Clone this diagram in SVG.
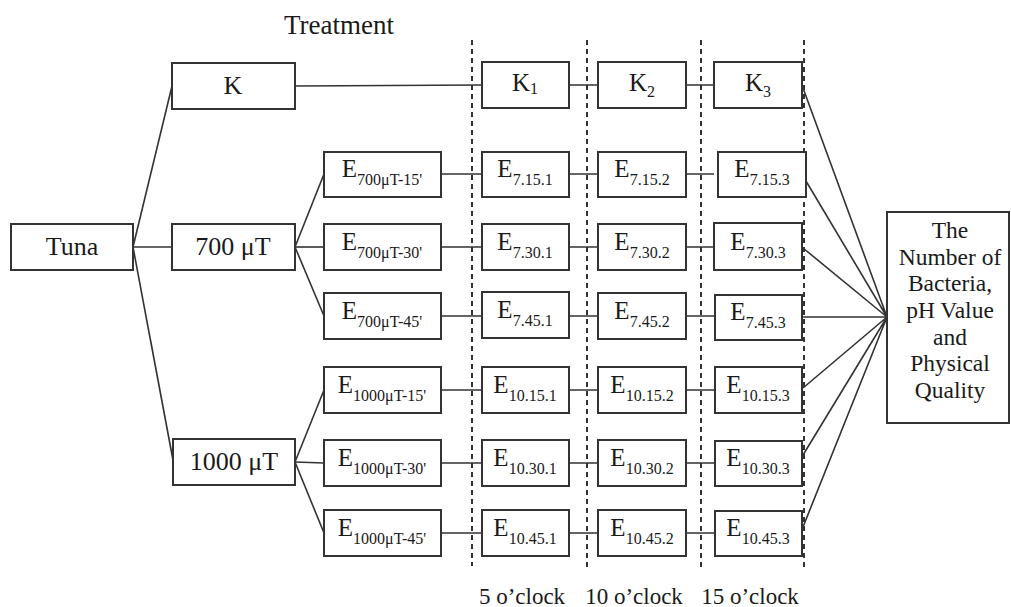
<svg xmlns="http://www.w3.org/2000/svg" width="1011" height="607" viewBox="0 0 1011 607">
<style>
text{font-family:"Liberation Serif","Times New Roman",serif;fill:#1a1a1a}
.t{font-size:26px;text-anchor:middle}
.r{font-size:23.5px;text-anchor:middle}
.e{font-size:25px;text-anchor:middle}
.sub{font-size:16px}
.box{fill:#fff;stroke:#333;stroke-width:2}
.ln{stroke:#333;stroke-width:1.6;fill:none}
.dash{stroke:#333;stroke-width:2;stroke-dasharray:5 4;fill:none}
.lab{font-size:23px;text-anchor:middle}
</style>
<rect width="1011" height="607" fill="#fff"/>
<g id="guides">
<line class="dash" x1="472" y1="40" x2="472" y2="566"/>
<line class="dash" x1="587" y1="40" x2="587" y2="568"/>
<line class="dash" x1="701" y1="40" x2="701" y2="570"/>
<line class="dash" x1="804" y1="40" x2="804" y2="570"/>
</g>
<text class="t" x="339" y="34" style="font-size:27px">Treatment</text>
<g id="connectors">
<line class="ln" x1="133" y1="247" x2="172" y2="86"/>
<line class="ln" x1="133" y1="247" x2="172" y2="247"/>
<line class="ln" x1="133" y1="247" x2="173" y2="460"/>
<line class="ln" x1="295" y1="86" x2="482" y2="85"/>
<line class="ln" x1="295" y1="247" x2="324" y2="174"/>
<line class="ln" x1="295" y1="247" x2="324" y2="247"/>
<line class="ln" x1="295" y1="247" x2="324" y2="316"/>
<line class="ln" x1="295" y1="462" x2="324" y2="390"/>
<line class="ln" x1="295" y1="462" x2="324" y2="463"/>
<line class="ln" x1="295" y1="462" x2="324" y2="533"/>
<path class="ln" d="M441 174H482M441 247H482M441 316H482M441 390H482M441 463H482M441 533H482"/>
<path class="ln" d="M569 85H598M569 174H598M569 247H598M569 316H598M569 390H598M569 463H598M569 533H598"/>
<path class="ln" d="M686 85H714M686 174H714M686 247H714M686 316H714M686 390H714M686 463H714M686 533H714"/>
<path class="ln" d="M803 88L887 317M803 176L887 317M803 248L887 317M803 317L887 317M803 388L887 317M803 455L887 317M803 527L887 317"/>
</g>
<g id="tuna"><rect class="box" x="11" y="224" width="122" height="46"/><text class="t" x="72" y="255">Tuna</text></g>
<g id="k"><rect class="box" x="172" y="63" width="123" height="46"/><text class="t" x="233" y="94">K</text></g>
<g id="t700"><rect class="box" x="172" y="224" width="123" height="46"/><text class="t" x="233" y="255">700 μT</text></g>
<g id="t1000"><rect class="box" x="173" y="439" width="122" height="46"/><text class="t" x="234" y="470">1000 μT</text></g>

<g id="e700-15"><rect class="box" x="324" y="152" width="117" height="45"/><text class="e" x="382" y="177">E<tspan class="sub" dy="8">700μT-15'</tspan></text></g>
<g id="e700-30"><rect class="box" x="324" y="224" width="117" height="46"/><text class="e" x="382" y="250">E<tspan class="sub" dy="8">700μT-30'</tspan></text></g>
<g id="e700-45"><rect class="box" x="324" y="293" width="117" height="46"/><text class="e" x="382" y="319">E<tspan class="sub" dy="8">700μT-45'</tspan></text></g>
<g id="e1000-15"><rect class="box" x="324" y="367" width="117" height="46"/><text class="e" x="382" y="393">E<tspan class="sub" dy="8">1000μT-15'</tspan></text></g>
<g id="e1000-30"><rect class="box" x="324" y="440" width="117" height="46"/><text class="e" x="382" y="466">E<tspan class="sub" dy="8">1000μT-30'</tspan></text></g>
<g id="e1000-45"><rect class="box" x="324" y="510" width="117" height="46"/><text class="e" x="382" y="536">E<tspan class="sub" dy="8">1000μT-45'</tspan></text></g>

<g id="k1"><rect class="box" x="482" y="62" width="87" height="46"/><text class="e" x="525" y="91">K<tspan class="sub" dy="3">1</tspan></text></g>
<g id="e7151"><rect class="box" x="482" y="152" width="87" height="45"/><text class="e" x="525" y="177">E<tspan class="sub" dy="8">7.15.1</tspan></text></g>
<g id="e7301"><rect class="box" x="482" y="224" width="87" height="46"/><text class="e" x="525" y="250">E<tspan class="sub" dy="8">7.30.1</tspan></text></g>
<g id="e7451"><rect class="box" x="482" y="292" width="87" height="46"/><text class="e" x="525" y="318">E<tspan class="sub" dy="8">7.45.1</tspan></text></g>
<g id="e10151"><rect class="box" x="482" y="367" width="87" height="46"/><text class="e" x="525" y="393">E<tspan class="sub" dy="8">10.15.1</tspan></text></g>
<g id="e10301"><rect class="box" x="482" y="440" width="87" height="46"/><text class="e" x="525" y="466">E<tspan class="sub" dy="8">10.30.1</tspan></text></g>
<g id="e10451"><rect class="box" x="482" y="510" width="87" height="46"/><text class="e" x="525" y="536">E<tspan class="sub" dy="8">10.45.1</tspan></text></g>

<g id="k2"><rect class="box" x="598" y="62" width="88" height="46"/><text class="e" x="642" y="91">K<tspan class="sub" dy="6">2</tspan></text></g>
<g id="e7152"><rect class="box" x="598" y="152" width="88" height="45"/><text class="e" x="642" y="177">E<tspan class="sub" dy="8">7.15.2</tspan></text></g>
<g id="e7302"><rect class="box" x="598" y="224" width="88" height="46"/><text class="e" x="642" y="250">E<tspan class="sub" dy="8">7.30.2</tspan></text></g>
<g id="e7452"><rect class="box" x="598" y="293" width="88" height="46"/><text class="e" x="642" y="319">E<tspan class="sub" dy="8">7.45.2</tspan></text></g>
<g id="e10152"><rect class="box" x="598" y="367" width="88" height="46"/><text class="e" x="642" y="393">E<tspan class="sub" dy="8">10.15.2</tspan></text></g>
<g id="e10302"><rect class="box" x="598" y="440" width="88" height="46"/><text class="e" x="642" y="466">E<tspan class="sub" dy="8">10.30.2</tspan></text></g>
<g id="e10452"><rect class="box" x="598" y="510" width="88" height="46"/><text class="e" x="642" y="536">E<tspan class="sub" dy="8">10.45.2</tspan></text></g>

<g id="k3"><rect class="box" x="714" y="62" width="88" height="46"/><text class="e" x="758" y="91">K<tspan class="sub" dy="6">3</tspan></text></g>
<g id="e7153"><rect class="box" x="718" y="152" width="88" height="45"/><text class="e" x="762" y="177">E<tspan class="sub" dy="8">7.15.3</tspan></text></g>
<g id="e7303"><rect class="box" x="714" y="223" width="88" height="47"/><text class="e" x="758" y="250">E<tspan class="sub" dy="8">7.30.3</tspan></text></g>
<g id="e7453"><rect class="box" x="715" y="295" width="87" height="45"/><text class="e" x="758" y="320">E<tspan class="sub" dy="8">7.45.3</tspan></text></g>
<g id="e10153"><rect class="box" x="715" y="367" width="87" height="46"/><text class="e" x="758" y="393">E<tspan class="sub" dy="8">10.15.3</tspan></text></g>
<g id="e10303"><rect class="box" x="715" y="441" width="87" height="45"/><text class="e" x="758" y="466">E<tspan class="sub" dy="8">10.30.3</tspan></text></g>
<g id="e10453"><rect class="box" x="715" y="511" width="87" height="45"/><text class="e" x="758" y="536">E<tspan class="sub" dy="8">10.45.3</tspan></text></g>

<g id="result"><rect class="box" x="887" y="212" width="122" height="211"/>
<text class="r" x="950" y="238">The</text>
<text class="r" x="950" y="264.7">Number of</text>
<text class="r" x="950" y="291.3">Bacteria,</text>
<text class="r" x="950" y="318">pH Value</text>
<text class="r" x="950" y="344.7">and</text>
<text class="r" x="950" y="371.3">Physical</text>
<text class="r" x="950" y="398">Quality</text>
</g>
<text class="lab" x="522" y="604">5 o’clock</text>
<text class="lab" x="634" y="604">10 o’clock</text>
<text class="lab" x="750" y="604">15 o’clock</text>
</svg>
